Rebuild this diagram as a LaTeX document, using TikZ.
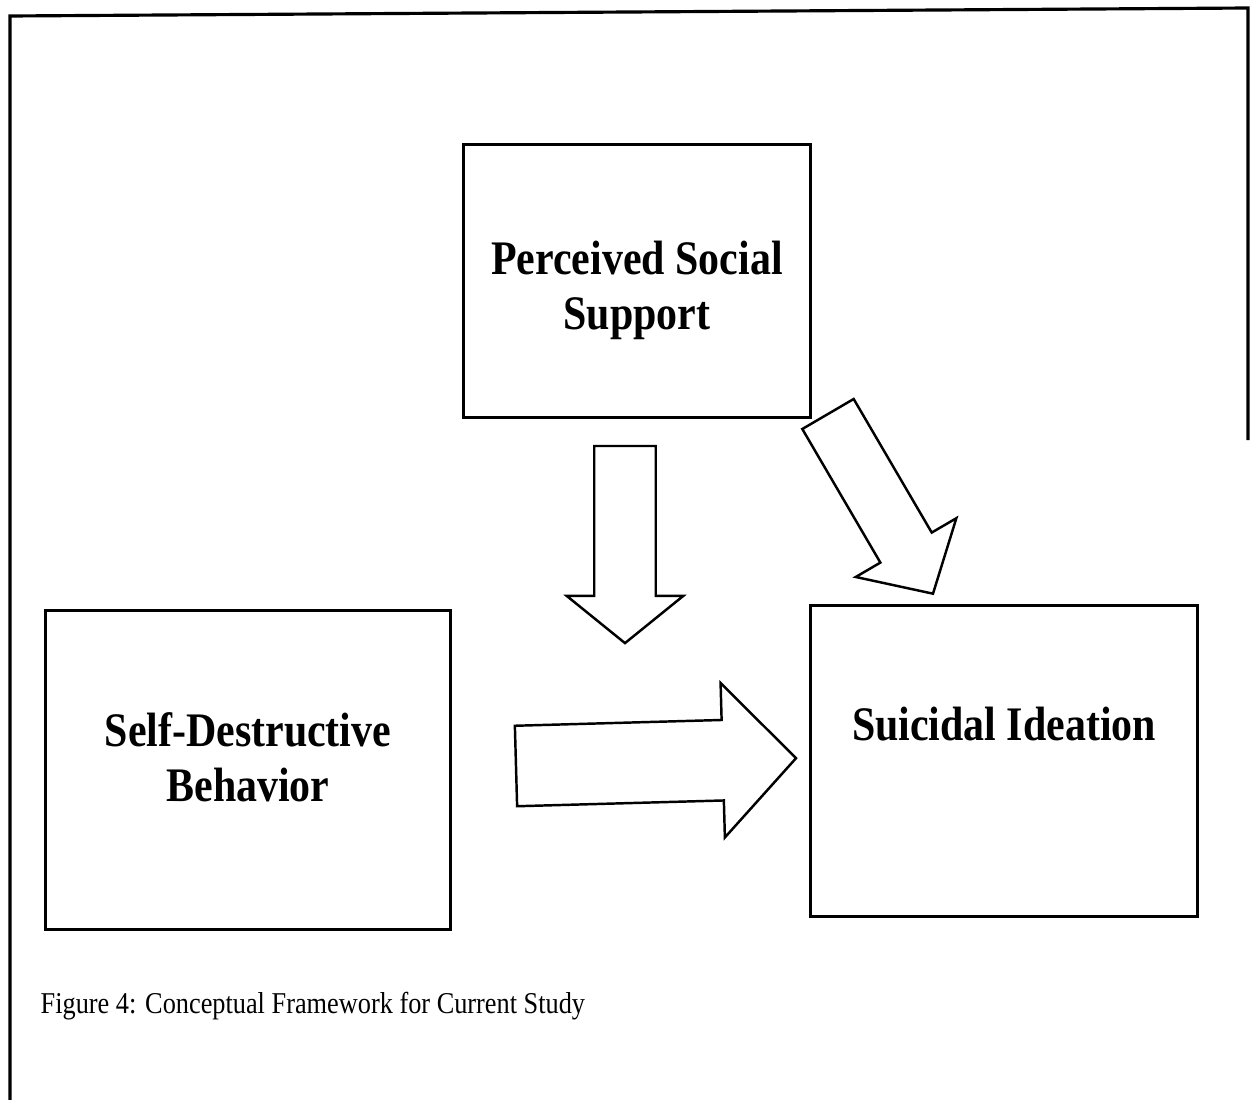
\documentclass[tikz,border=0pt]{standalone}
\usepackage{fontspec}
\setmainfont{Liberation Serif}[FakeStretch=0.87]
\usetikzlibrary{shapes.arrows}
\newcommand*\boxfont{\bfseries\fontsize{13.7}{15.6}\selectfont}
\newcommand*\arrowwidth{0.7pt}
\tikzset{
    conceptbox/.style = {draw, line width=0.85pt, inner sep=0pt, outer sep=0pt},
    boxlabel/.style   = {align=center, font=\boxfont},
    blockarrow/.style = {single arrow, draw, line width=\arrowwidth,
                        inner xsep=0pt, outer sep=0pt, anchor=tail},
}
\begin{document}
\begin{tikzpicture}[x=0.01cm, y=-0.01cm]
    \useasboundingbox (0,0) rectangle (1250,1100);

    % Page frame
    \draw[line width=0.9pt] (10,1100) -- (10,16) -- (1248,8) -- (1248,440);

    % The three concepts
    \node (pss) [conceptbox, minimum width=3.46cm, minimum height=2.72cm,
        label={[boxlabel, yshift=-0.09cm]center:Perceived Social\\Support}] at (637,281) {};
    \node (sdb) [conceptbox, minimum width=4.04cm, minimum height=3.19cm,
        label={[boxlabel, yshift=0.13cm]center:Self-Destructive\\Behavior}] at (248,770) {};
    \node (si) [conceptbox, minimum width=3.87cm, minimum height=3.11cm,
        label={[boxlabel, yshift=0.37cm]center:Suicidal Ideation}] at (1004,761) {};

    % Tails of the block arrows
    \coordinate (downtail)  at (625,446);
    \coordinate (righttail) at (516,766);
    \coordinate (diagtail)  at (828,414);

    % Block arrows (shaft = 2 x inner ysep)
    \node (down) [blockarrow, rotate=-90, inner ysep=0.295cm, minimum height=1.97cm,
        single arrow head extend=0.275cm, single arrow tip angle=102] at (downtail) {};
    \node (right) [blockarrow, rotate=1.6, inner ysep=0.39cm, minimum height=2.80cm,
        single arrow head extend=0.37cm, single arrow tip angle=93] at (righttail) {};
    \node (diag) [blockarrow, rotate=-59.7, inner ysep=0.285cm, minimum height=2.08cm,
        single arrow head extend=0.285cm, single arrow tip angle=95] at (diagtail) {};

    % Caption
    \node (caption) [anchor=base west, inner sep=0pt, font=\fontsize{8.6}{10}\selectfont]
        at (40,1014) {Figure 4: Conceptual Framework for Current Study};
\end{tikzpicture}
\end{document}
